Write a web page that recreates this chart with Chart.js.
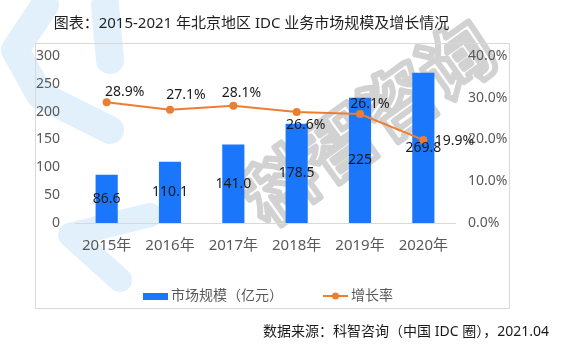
<!DOCTYPE html>
<html>
<head>
<meta charset="utf-8">
<script src="https://cdn.jsdelivr.net/npm/chart.js@4.4.0/dist/chart.umd.min.js"></script>
<style>
  html, body { margin: 0; padding: 0; background: #fff; }
</style>
</head>
<body>
<canvas id="myChart" width="567" height="351"></canvas>
<script>
// 数据
const years = ['2015年', '2016年', '2017年', '2018年', '2019年', '2020年'];
const marketSize = [86.6, 110.1, 141.0, 178.5, 225, 269.8];      // 亿元
const marketSizeText = ['86.6', '110.1', '141.0', '178.5', '225', '269.8'];
const growthRate = [28.9, 27.1, 28.1, 26.6, 26.1, 19.9];          // %
const leftMax = 300, leftStep = 50;
const rightMax = 40, rightStep = 10;

const FONT = '"Noto Sans", "Noto Sans CJK SC", sans-serif';
const BLUE = '#1a76fb';
const ORANGE = '#ed7d31';

// 折线标签相对点的偏移（样式）
const lineLabelOffset = [[18, -10], [16, -15], [8, -13], [9, 13], [10, -10], [31, 1]];

const decor = {
  id: 'decor',
  beforeDraw(chart) {
    const c = chart.ctx;
    c.save();
    c.fillStyle = '#fff';
    c.fillRect(0, 0, chart.width, chart.height);
    // 水印：浅蓝色图形
    c.strokeStyle = '#e2f0fb';
    c.lineCap = 'round';
    c.lineJoin = 'round';
    c.lineWidth = 28;
    c.beginPath();
    c.moveTo(45, 5); c.lineTo(15, 50); c.lineTo(40, 95); c.lineTo(110, 130);
    c.stroke();
    c.beginPath();
    c.moveTo(105, 5); c.lineTo(110, 60);
    c.stroke();
    c.lineWidth = 24;
    c.beginPath();
    c.moveTo(150, 215); c.lineTo(70, 235); c.lineTo(120, 280);
    c.stroke();
    // 水印：灰色文字
    c.translate(368, 122);
    c.rotate(-0.62);
    c.font = 'bold 72px "Noto Sans CJK SC"';
    c.textAlign = 'center';
    c.textBaseline = 'middle';
    c.strokeStyle = '#d2d2d2';
    c.lineWidth = 6;
    c.strokeText('科智咨询', 0, 0);
    c.restore();
    c.save();
    c.strokeStyle = '#d9d9d9';
    c.lineWidth = 1;
    c.strokeRect(35.5, 43.5, 474, 265);
    c.restore();
  },
  afterDatasetsDraw(chart) {
    const c = chart.ctx;
    c.save();
    c.font = '14px ' + FONT;
    c.fillStyle = '#1a1a1a';
    c.textBaseline = 'middle';
    c.textAlign = 'center';
    // 柱子标签
    chart.getDatasetMeta(1).data.forEach((bar, i) => {
      c.fillText(marketSizeText[i], bar.x, (bar.y + bar.base) / 2);
    });
    // 折线标签
    chart.getDatasetMeta(0).data.forEach((pt, i) => {
      const o = lineLabelOffset[i];
      c.fillText(growthRate[i].toFixed(1) + '%', pt.x + o[0], pt.y + o[1]);
    });
    c.restore();
  },
  afterDraw(chart) {
    const c = chart.ctx;
    c.save();
    // 标题
    c.fillStyle = '#1f1f1f';
    c.font = '15px ' + FONT;
    c.textAlign = 'center';
    c.textBaseline = 'middle';
    c.fillText('图表：2015-2021 年北京地区 IDC 业务市场规模及增长情况', 251.5, 24);
    // 图例
    c.font = '14px ' + FONT;
    c.textAlign = 'left';
    c.fillStyle = BLUE;
    c.fillRect(143, 293, 25, 7);
    c.fillStyle = '#595959';
    c.fillText(chart.data.datasets[1].label, 171, 296);
    c.strokeStyle = ORANGE;
    c.lineWidth = 2;
    c.beginPath(); c.moveTo(323, 296); c.lineTo(348, 296); c.stroke();
    c.fillStyle = ORANGE;
    c.beginPath(); c.arc(335.5, 296, 3.5, 0, Math.PI * 2); c.fill();
    c.fillStyle = '#595959';
    c.fillText(chart.data.datasets[0].label, 351, 296);
    // 数据来源
    c.fillStyle = '#1a1a1a';
    c.textAlign = 'right';
    c.fillText('数据来源：科智咨询（中国 IDC 圈），2021.04', 549, 332);
    c.restore();
  }
};

const ctx = document.getElementById('myChart');
const myChart = new Chart(ctx, {
  type: 'bar',
  data: {
    labels: years,
    datasets: [{
      type: 'line',
      label: '增长率',
      data: growthRate,
      yAxisID: 'y1',
      borderColor: ORANGE,
      backgroundColor: ORANGE,
      borderWidth: 2,
      pointRadius: 4,
      pointBorderWidth: 0,
      tension: 0,
      order: 0
    }, {
      label: '市场规模（亿元）',
      data: marketSize,
      yAxisID: 'y',
      backgroundColor: BLUE,
      categoryPercentage: 1,
      barPercentage: 0.35,
      order: 1
    }]
  },
  plugins: [decor],
  options: {
    responsive: false,
    animation: false,
    events: [],
    layout: { padding: { left: 0, right: 0, top: 56, bottom: 88 } },
    plugins: { legend: { display: false }, title: { display: false }, tooltip: { enabled: false } },
    scales: {
      x: {
        grid: { display: false, drawTicks: false },
        border: { display: true, color: '#d9d9d9' },
        ticks: { color: '#595959', font: { family: FONT, size: 15 }, padding: 14, maxRotation: 0 },
        afterFit: s => { s.height = 40; }
      },
      y: {
        position: 'left',
        min: 0, max: leftMax,
        grid: { display: false, drawTicks: false },
        border: { display: false },
        ticks: { stepSize: leftStep, color: '#595959', font: { family: FONT, size: 14 }, padding: 15 },
        afterFit: s => { s.width = 75; }
      },
      y1: {
        position: 'right',
        min: 0, max: rightMax,
        grid: { display: false, drawTicks: false },
        border: { display: false },
        ticks: { stepSize: rightStep, color: '#595959', font: { family: FONT, size: 14 }, padding: 13,
                 callback: v => v.toFixed(1) + '%' },
        afterFit: s => { s.width = 112; }
      }
    }
  }
});
</script>
</body>
</html>
